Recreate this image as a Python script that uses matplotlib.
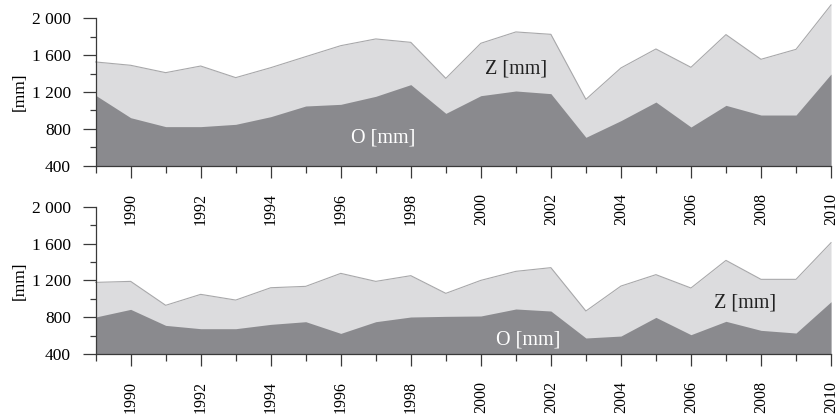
import matplotlib
matplotlib.use("Agg")
import matplotlib.pyplot as plt
from matplotlib.ticker import MultipleLocator, FuncFormatter

years = list(range(1989, 2011))

# Upper panel
top_O = [1164, 921, 824, 824, 849, 932, 1048, 1066, 1153, 1280, 968,
         1160, 1211, 1182, 708, 889, 1091, 820, 1055, 950, 950, 1395]
top_Z = [1526, 1490, 1410, 1482, 1356, 1464, 1584, 1703, 1776, 1739, 1348,
         1729, 1852, 1826, 1120, 1461, 1667, 1468, 1823, 1555, 1663, 2145]

# Lower panel
bot_O = [802, 885, 711, 675, 675, 722, 751, 624, 751, 802, 809,
         813, 889, 867, 574, 595, 798, 610, 755, 657, 628, 968]
bot_Z = [1178, 1189, 929, 1048, 986, 1120, 1135, 1276, 1189, 1251, 1059,
         1200, 1298, 1338, 867, 1138, 1262, 1117, 1417, 1211, 1211, 1609]

y_ticks = [400, 800, 1200, 1600, 2000]
x_labels = list(range(1990, 2011, 2))

plt.rcParams["font.family"] = ["Liberation Serif", "DejaVu Serif"]

DARK = "#8a8a8e"
LIGHT = "#dcdcde"
EDGE = "#a8a8aa"
AXC = "#3a3a3a"

fig = plt.figure(figsize=(8.39, 4.16), dpi=100)
ax_top = fig.add_axes([0.114, 0.6017, 0.8765, 0.3543])
ax_bot = fig.add_axes([0.114, 0.149, 0.8765, 0.3541])
ax_top.set_zorder(3)
ax_bot.set_zorder(1)


def fmt(v, _):
    v = int(round(v))
    if v >= 1000:
        return f"{v // 1000} {v % 1000:03d}"
    return str(v)


def draw(ax, o, z, o_pos, z_pos):
    ax.fill_between(years, 400, z, color=LIGHT, lw=0, clip_on=False, zorder=1)
    ax.plot(years, z, color=EDGE, lw=0.8, clip_on=False, zorder=2)
    ax.fill_between(years, 400, o, color=DARK, lw=0, clip_on=False, zorder=3)
    ax.set_xlim(1989, 2010)
    ax.set_ylim(400, 2000)
    for s in ("top", "right"):
        ax.spines[s].set_visible(False)
    for s in ("left", "bottom"):
        ax.spines[s].set_color(AXC)
        ax.spines[s].set_linewidth(0.9)
        ax.spines[s].set_zorder(5)
    ax.set_yticks(y_ticks)
    ax.yaxis.set_minor_locator(MultipleLocator(200))
    ax.yaxis.set_major_formatter(FuncFormatter(fmt))
    ax.set_xticks(x_labels, labels=[str(y) for y in x_labels])
    ax.set_xticks(years, minor=True)
    ax.tick_params(axis="y", which="major", length=9.4, width=0.9, color=AXC,
                   direction="out", pad=8.5, labelsize=12.5)
    ax.tick_params(axis="y", which="minor", length=4.3, width=0.9, color=AXC,
                   direction="out")
    ax.tick_params(axis="x", which="major", length=8.6, width=0.9, color=AXC,
                   direction="out", pad=11, labelsize=11.5, labelrotation=90)
    ax.tick_params(axis="x", which="minor", length=5, width=0.9, color=AXC,
                   direction="out")
    ax.set_ylabel("[mm]", fontsize=12.5, labelpad=3)
    ax.text(*o_pos, "O [mm]", color="white", fontsize=14.5,
            ha="center", va="center", zorder=6)
    ax.text(*z_pos, "Z [mm]", color="#222222", fontsize=14.5,
            ha="center", va="center", zorder=6)


draw(ax_top, top_O, top_Z, (1997.2, 700), (2001.0, 1450))
draw(ax_bot, bot_O, bot_Z, (2001.35, 550), (2007.55, 950))
ax_bot.patch.set_visible(False)

fig.savefig("out.png", dpi=100, facecolor="white")
